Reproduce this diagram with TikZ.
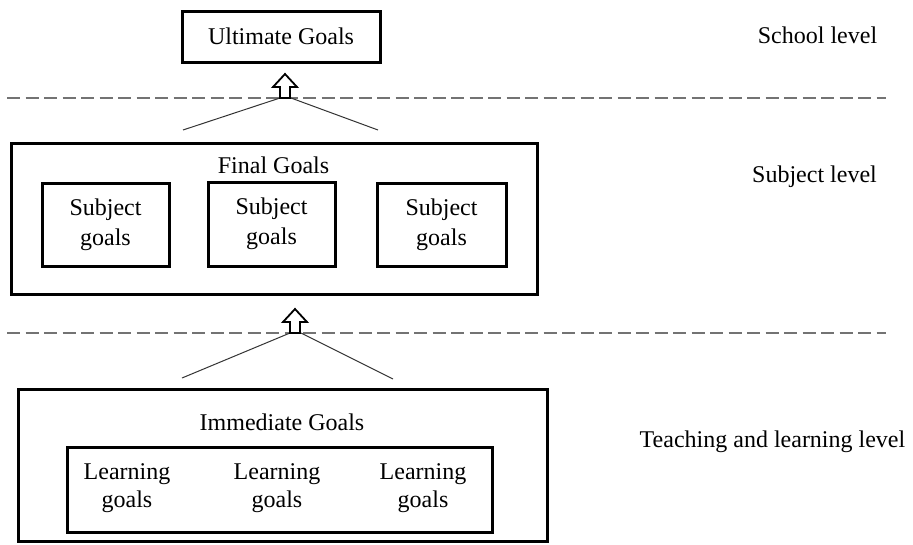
\documentclass[tikz,border=0pt]{standalone}
\usepackage{fontspec}
\setmainfont{Liberation Serif}
\usetikzlibrary{calc}
\begin{document}
\begin{tikzpicture}[x=1pt,y=-1pt,
  goalbox/.style={draw, line width=3pt, inner sep=0pt, align=center,
    font=\fontsize{24}{30}\selectfont},
  frame/.style={draw, line width=3pt, inner sep=0pt},
  lbl/.style={font=\fontsize{24}{28}\selectfont, inner sep=0pt, anchor=base},
  pair/.style={font=\fontsize{24}{28}\selectfont, inner sep=0pt, align=center},
  divider/.style={draw=black!55, line width=2pt, dash pattern=on 13pt off 5.5pt},
  leg/.style={draw=black!80, line width=1pt},
  uparrow/.style={draw, line width=1.8pt, fill=white, line join=miter}]
\useasboundingbox (0,0) rectangle (913,544);

% level dividers
\coordinate (d1a) at (7,98);  \coordinate (d1b) at (886,98);
\coordinate (d2a) at (7,333); \coordinate (d2b) at (886,333);
\draw[divider] (d1a) -- (d1b);
\draw[divider] (d2a) -- (d2b);

% school level
\node[goalbox, minimum width=198pt, minimum height=51pt] (ult) at (281,36.5) {Ultimate Goals};

% subject level
\node[frame, minimum width=526pt, minimum height=151pt] (final) at (274,218.5) {};
\node[lbl] (finaltxt) at (273.5,173) {Final Goals};
\node[goalbox, minimum width=127pt, minimum height=83pt] (s1) at (105.5,224.5) {Subject\\goals};
\node[goalbox, minimum width=127pt, minimum height=84pt] (s2) at (271.5,224) {Subject\\goals};
\node[goalbox, minimum width=129pt, minimum height=83pt] (s3) at (441.5,224.5) {Subject\\goals};

% teaching and learning level
\node[frame, minimum width=529pt, minimum height=152pt] (imm) at (282.5,465) {};
\node[lbl] (immtxt) at (282,430) {Immediate Goals};
\node[frame, minimum width=425pt, minimum height=85pt] (learn) at (279.5,489.5) {};
\node[pair] (l1) at (127,488.4) {Learning\\goals};
\node[pair] (l2) at (277,488.4) {Learning\\goals};
\node[pair] (l3) at (423,488.4) {Learning\\goals};

% level names
\node[lbl] (lvA) at (817.5,43) {School level};
\node[lbl] (lvB) at (814.5,182) {Subject level};
\node[lbl] (lvC) at (772.5,447) {Teaching and learning level};

% upward links between levels
\coordinate (a1) at (285,98);
\coordinate (f1l) at (183,130); \coordinate (f1r) at (378,130);
\draw[leg] (f1l) -- ($(a1)+(-5,0)$);
\draw[leg] ($(a1)+(6,0)$) -- (f1r);
\draw[uparrow] (a1) ++(-5,0) -- ++(0,-11) -- ++(-7,0) -- ++(12,-13)
  -- ++(12,13) -- ++(-7,0) -- ++(0,11) -- cycle;

\coordinate (a2) at (295,333);
\coordinate (f2l) at (182,378); \coordinate (f2r) at (393,379);
\draw[leg] (f2l) -- ($(a2)+(-5,0)$);
\draw[leg] ($(a2)+(6,0)$) -- (f2r);
\draw[uparrow] (a2) ++(-5,0) -- ++(0,-11) -- ++(-7,0) -- ++(12,-13)
  -- ++(12,13) -- ++(-7,0) -- ++(0,11) -- cycle;
\end{tikzpicture}
\end{document}
